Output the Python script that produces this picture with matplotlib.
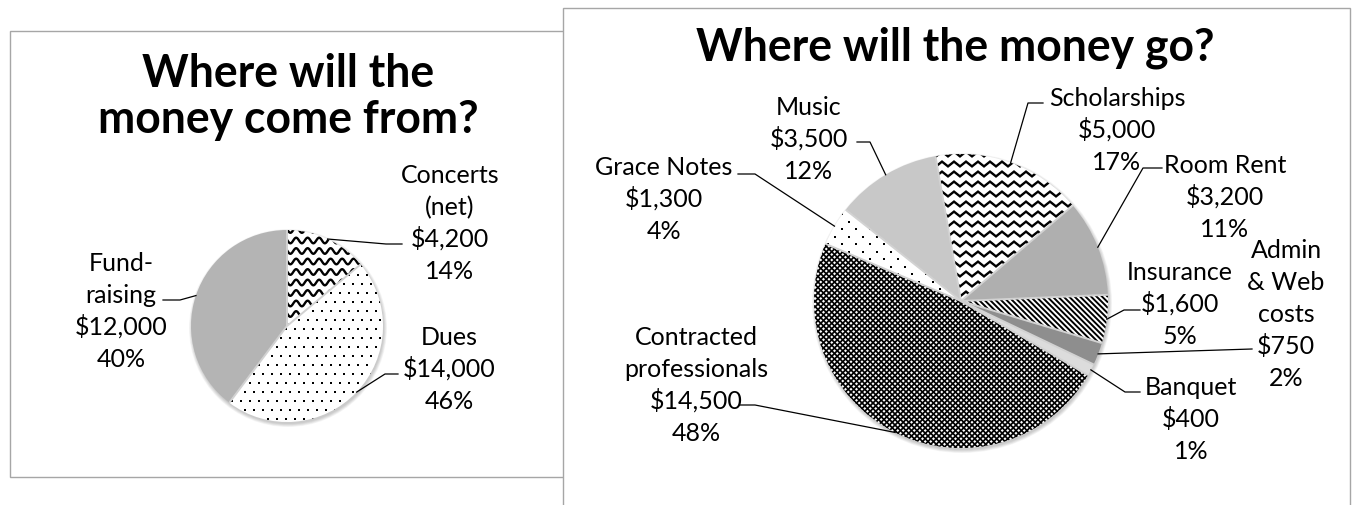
import numpy as np
import matplotlib
matplotlib.use("Agg")
import matplotlib.pyplot as plt
from matplotlib.patches import Rectangle, Circle
from matplotlib.collections import LineCollection

# ---- data ----
src_names = ["Concerts\n(net)", "Dues", "Fund-\nraising"]
src_values = [4200, 14000, 12000]

use_names = ["Scholarships", "Room Rent", "Insurance", "Admin\n& Web\ncosts",
             "Banquet", "Contracted\nprofessionals", "Grace Notes", "Music"]
use_values = [5000, 3200, 1600, 750, 400, 14500, 1300, 3500]

titles = ["Where will the\nmoney come from?", "Where will the money go?"]

# ---- layout (pixel coords, y pointing down) ----
W, H = 1360, 506
src_colors = ["white", "white", "#b4b4b4"]
src_fill = ["wave", "dots", None]
use_colors = ["white", "#afafaf", "white", "#8e8e8e", "#dcdcdc", "white",
              "white", "#c8c8c8"]
use_fill = ["zigzag", None, "diag", None, None, "cross", "sparse", None]

# label centre x, baseline of first line
src_label_pos = [(450, 183), (449, 345), (121, 271)]
use_label_pos = [(1117, 106), (1225, 173), (1180, 280), (1286, 258),
                 (1191, 395), (696, 345), (664, 175), (809, 115)]
# leader elbow and end point
src_leader = [((386, 245), (402, 245)), ((385, 375), (398, 375)),
              ((180, 301), (163, 301))]
use_leader = [((1028, 104), (1043, 104)), ((1143, 169), (1162, 169)),
              ((1124, 311), (1140, 311)), ((1252, 350), (1252, 350)),
              ((1125, 393), (1140, 393)), ((755, 406), (740, 406)),
              ((755, 175), (738, 175)), ((870, 143), (857, 143))]
LINE_PITCH = 32
FONT = "Lato"

fig = plt.figure(figsize=(W / 100, H / 100), dpi=100)
ax = fig.add_axes([0, 0, 1, 1])
renderer = fig.canvas.get_renderer()


def fit_size(text, width, **kw):
    t = ax.text(0, 0, text, fontsize=20, family=FONT, **kw)
    w = t.get_window_extent(renderer).width
    t.remove()
    return 20 * width / w


title_fs = fit_size(titles[1], 518, weight="bold")
label_fs = fit_size("Scholarships", 137)

# frames
ax.add_patch(Rectangle((10, 32), 600, 446, facecolor="white",
                       edgecolor="#a6a6a6", lw=1.0, zorder=0))
ax.add_patch(Rectangle((563, 9), 787, 520, facecolor="white",
                       edgecolor="#a6a6a6", lw=1.0, zorder=0.5))


def clip_segments(wedge, segs, lw):
    lc = LineCollection(segs, colors="black", linewidths=lw, zorder=1.5,
                        joinstyle="miter")
    ax.add_collection(lc)
    lc.set_clip_path(wedge)


def pattern(wedge, kind):
    cx, cy = wedge.center
    r = wedge.r
    if kind in ("wave", "zigzag"):
        period, amp, gap = (11.5, 2.8, 10.5) if kind == "wave" else (12, 2.4, 10)
        xs = np.arange(cx - r, cx + r, 0.5)
        ph = xs / period
        if kind == "wave":
            off = amp * np.sin(2 * np.pi * ph)
        else:
            off = amp * (4 * np.abs(ph % 1 - 0.5) - 1)
        segs = [np.column_stack([xs, yc + off])
                for yc in np.arange(cy - r, cy + r, gap)]
        clip_segments(wedge, segs, 1.7)
    elif kind in ("diag", "cross"):
        step = 5.5
        cs = np.arange(-2 * r, 2 * r, step)
        segs = [[(cx - r, cy - r + c), (cx + r, cy + r + c)] for c in cs]
        if kind == "cross":
            segs += [[(cx - r, cy + r + c), (cx + r, cy - r + c)] for c in cs]
        clip_segments(wedge, segs, 1.4 if kind == "diag" else 1.25)
    elif kind in ("dots", "sparse"):
        sx, sy = (9, 9) if kind == "dots" else (14, 7.5)
        pts = []
        for i, y in enumerate(np.arange(cy - r, cy + r, sy)):
            xs = np.arange(cx - r, cx + r, sx) + (sx / 2) * (i % 2)
            pts += [(x, y) for x in xs]
        pts = np.array(pts)
        sc = ax.scatter(pts[:, 0], pts[:, 1], s=4.2, marker="s", c="black",
                        linewidths=0, zorder=1.5)
        sc.set_clip_path(wedge)


def draw_pie(values, names, colors, fills, center, radius, start,
             label_pos, leaders):
    # soft shadow under the pie
    for k in range(6):
        ax.add_patch(Circle((center[0] + 1, center[1] + 2), radius + 0.6 * k,
                            facecolor="black", edgecolor="none", alpha=0.035,
                            zorder=0.8))
    # y axis is inverted, so counterclockwise data angles run clockwise
    wedges, _ = ax.pie(values, colors=colors, startangle=-start,
                       counterclock=True, center=center, radius=radius,
                       wedgeprops=dict(linewidth=0))
    total = sum(values)
    for w, kind in zip(wedges, fills):
        if kind:
            pattern(w, kind)
    for w in wedges:
        a = np.deg2rad(w.theta1)
        ax.plot([center[0], center[0] + radius * np.cos(a)],
                [center[1], center[1] + radius * np.sin(a)],
                color="#d2d2d2", lw=1.4, zorder=2, solid_capstyle="butt")
    for w, name, val, (lx, ly), (elbow, end) in zip(
            wedges, names, values, label_pos, leaders):
        lines = name.split("\n") + [f"${val:,}", f"{round(100 * val / total)}%"]
        for i, s in enumerate(lines):
            ax.text(lx, ly + i * LINE_PITCH, s, ha="center", va="baseline",
                    fontsize=label_fs, family=FONT, color="black", zorder=4)
        mid = np.deg2rad((w.theta1 + w.theta2) / 2)
        sx = center[0] + radius * np.cos(mid)
        sy = center[1] + radius * np.sin(mid)
        ax.plot([sx, elbow[0], end[0]], [sy, elbow[1], end[1]],
                color="black", lw=0.9, zorder=3)


draw_pie(src_values, src_names, src_colors, src_fill, (287, 327), 96, 90,
         src_label_pos, src_leader)
draw_pie(use_values, use_names, use_colors, use_fill, (961, 302), 147, 100,
         use_label_pos, use_leader)

for i, s in enumerate(titles[0].split("\n")):
    ax.text(288, 87 + i * 46, s, ha="center", va="baseline", fontsize=title_fs,
            weight="bold", family=FONT, zorder=4)
ax.text(955, 60, titles[1], ha="center", va="baseline", fontsize=title_fs,
        weight="bold", family=FONT, zorder=4)

ax.set_xlim(0, W)
ax.set_ylim(H, 0)
ax.set_aspect("auto")
ax.axis("off")

fig.savefig("out.png", dpi=100, facecolor="white")
